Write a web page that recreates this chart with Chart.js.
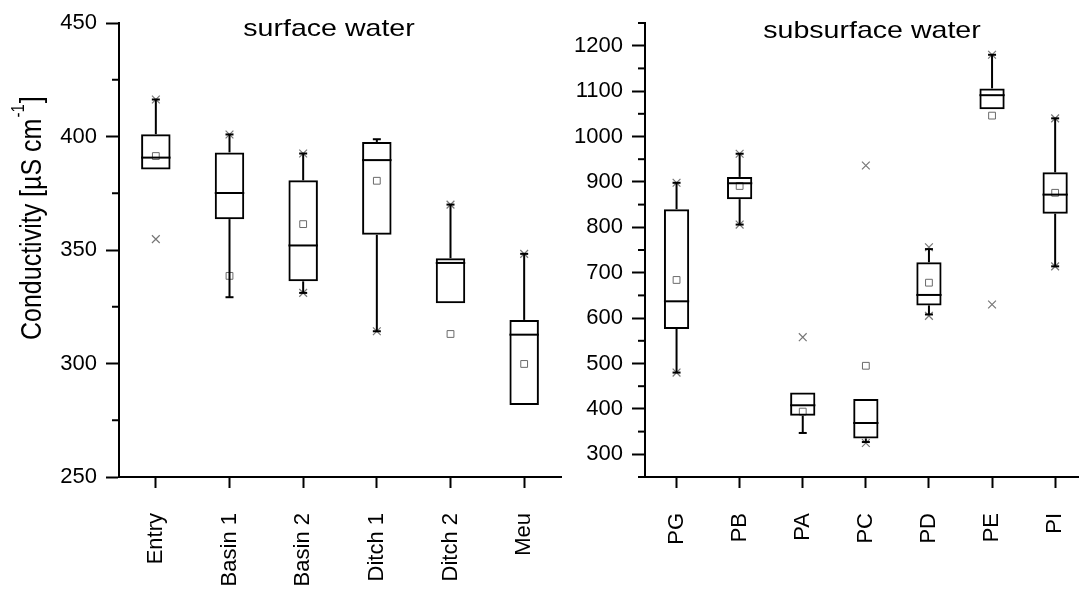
<!DOCTYPE html>
<html>
<head>
<meta charset="utf-8">
<script src="https://cdn.jsdelivr.net/npm/chart.js@4.4.1/dist/chart.umd.min.js"></script>
<style>
    html, body { margin: 0; padding: 0; background: #fff; overflow: hidden; }
    #surface { position: absolute; left: 0; top: 0; }
    #subsurface { position: absolute; left: 562px; top: 0; }
</style>
</head>
<body>
<canvas id="surface" width="562" height="592"></canvas>
<canvas id="subsurface" width="517" height="592"></canvas>
<script>
// surface water
const surfCats = ['Entry', 'Basin 1', 'Basin 2', 'Ditch 1', 'Ditch 2', 'Meu'];
const surfQ1 = [385.5, 363.6, 336.2, 356.7, 326.5, 281.7];
const surfQ3 = [401, 393, 380.7, 397.6, 346.4, 319.2];
const surfMedian = [390.7, 375.1, 352, 389.6, 344.3, 312.7];
const surfMean = [391.4, 338.6, 361.4, 380.5, 313, 299.8];
const surfWhiskerHi = [416.3, 400.9, 392.5, 398.8, 370, 348.3];
const surfWhiskerLo = [null, 329.2, 331.1, 314.2, null, null];
const surfMax = [416.3, 400.9, 392.5, null, 370, 348.3];
const surfMin = [354.8, null, 331.1, 314.2, null, null];
const surfMajorTicks = [250, 300, 350, 400, 450];
const surfMinorTicks = [275, 325, 375, 425];

// subsurface water
const subCats = ['PG', 'PB', 'PA', 'PC', 'PD', 'PE', 'PI'];
const subQ1 = [576, 862, 385, 335, 628, 1060, 830];
const subQ3 = [840, 911, 436, 422, 723, 1106, 921];
const subMedian = [637, 897, 408, 369, 651, 1091, 872];
const subMean = [684, 891, 394, 495, 678, 1046, 876];
const subWhiskerHi = [898, 962, null, null, 752, 1180, 1040];
const subWhiskerLo = [480, 806, 347, 327, 608, null, 714];
const subMax = [898, 962, 558, 936, 756, 1180, 1040];
const subMin = [480, 806, null, 325, 605, 630, 714];
const subMajorTicks = [300, 400, 500, 600, 700, 800, 900, 1000, 1100, 1200];
const subMinorTicks = [250, 350, 450, 550, 650, 750, 850, 950, 1050, 1150, 1250];

const FONT = '"Liberation Sans", Arial, sans-serif';

function seg(ctx, x1, y1, x2, y2) {
    ctx.beginPath();
    ctx.moveTo(x1, y1);
    ctx.lineTo(x2, y2);
    ctx.stroke();
}

// medians, whiskers, minor ticks, titles
const boxParts = {
    id: 'boxParts',
    afterDatasetsDraw(chart, args, o) {
        const { ctx } = chart;
        const x = chart.scales.x, y = chart.scales.y;
        const bars = chart.getDatasetMeta(0).data;
        ctx.save();
        ctx.strokeStyle = '#000';
        ctx.lineWidth = 2;
        o.median.forEach((m, i) => {
            const px = x.getPixelForValue(i);
            const half = bars[i].width / 2;
            seg(ctx, px - half, y.getPixelForValue(m), px + half, y.getPixelForValue(m));
            if (o.whiskerHi[i] != null) {
                const top = y.getPixelForValue(o.whiskerHi[i]);
                seg(ctx, px, y.getPixelForValue(o.q3[i]), px, top);
                seg(ctx, px - 4, top, px + 4, top);
            }
            if (o.whiskerLo[i] != null) {
                const bot = y.getPixelForValue(o.whiskerLo[i]);
                seg(ctx, px, y.getPixelForValue(o.q1[i]), px, bot);
                seg(ctx, px - 4, bot, px + 4, bot);
            }
        });
        ctx.restore();
    },
    afterDraw(chart, args, o) {
        const { ctx, chartArea } = chart;
        const y = chart.scales.y;
        ctx.save();
        ctx.strokeStyle = '#000';
        ctx.lineWidth = 2;
        o.minor.forEach(v => {
            const py = y.getPixelForValue(v);
            seg(ctx, chartArea.left - 7, py, chartArea.left, py);
        });
        ctx.fillStyle = '#000';
        ctx.font = '24px ' + FONT;
        ctx.textAlign = 'center';
        ctx.textBaseline = 'alphabetic';
        ctx.translate(chartArea.left + o.titleX, o.titleY);
        ctx.scale(1.19, 1);
        ctx.fillText(o.title, 0, 0);
        ctx.restore();

        if (o.yTitle) {
            ctx.save();
            ctx.fillStyle = '#000';
            ctx.translate(41, 340);
            ctx.rotate(-Math.PI / 2);
            ctx.scale(1, 1.19);
            ctx.textAlign = 'left';
            ctx.textBaseline = 'alphabetic';
            ctx.font = '25px ' + FONT;
            const main = 'Conductivity [\u00b5S cm';
            ctx.fillText(main, 0, 0);
            let w = ctx.measureText(main).width;
            ctx.font = '15px ' + FONT;
            ctx.fillText('-1', w + 1, -14);
            w += ctx.measureText('-1').width + 2;
            ctx.font = '25px ' + FONT;
            ctx.fillText(']', w, 0);
            ctx.restore();
        }
    }
};

function points(vals) {
    const out = [];
    vals.forEach((v, i) => { if (v != null) out.push({ x: i, y: v }); });
    return out;
}

function makeChart(id, d) {
    return new Chart(document.getElementById(id), {
        type: 'bar',
        data: {
            datasets: [
                {
                    type: 'bar',
                    data: d.cats.map((c, i) => ({ x: i, y: [d.q1[i], d.q3[i]] })),
                    backgroundColor: 'rgba(0,0,0,0)',
                    borderColor: '#000',
                    borderWidth: 2,
                    borderSkipped: false,
                    barPercentage: 0.4,
                    categoryPercentage: 1
                },
                {
                    type: 'line',
                    data: points(d.mean),
                    showLine: false,
                    pointStyle: 'rect',
                    pointRadius: 4.8,
                    pointBorderColor: '#6a6a6a',
                    pointBackgroundColor: 'rgba(0,0,0,0)',
                    pointBorderWidth: 1
                },
                {
                    type: 'line',
                    data: points(d.max).concat(points(d.min)),
                    showLine: false,
                    pointStyle: 'crossRot',
                    pointRadius: 5.5,
                    pointBorderColor: '#777',
                    pointBorderWidth: 1.2
                }
            ]
        },
        options: {
            responsive: false,
            animation: false,
            events: [],
            layout: { autoPadding: false, padding: { top: 23, right: d.padRight, left: 0, bottom: 0 } },
            plugins: {
                legend: { display: false },
                tooltip: { enabled: false },
                boxParts: {
                    median: d.median, q1: d.q1, q3: d.q3,
                    whiskerHi: d.whiskerHi, whiskerLo: d.whiskerLo,
                    minor: d.minor, title: d.title, titleX: d.titleX, titleY: d.titleY,
                    yTitle: d.yTitle
                }
            },
            scales: {
                x: {
                    type: 'linear',
                    min: -0.5,
                    max: d.xMax,
                    offset: false,
                    afterBuildTicks: s => { s.ticks = d.cats.map((c, i) => ({ value: i })); },
                    afterFit: s => {
                        s.height = 115;
                        s.paddingLeft = 0;
                        s.paddingRight = 0;
                    },
                    ticks: {
                        callback: v => d.cats[v],
                        minRotation: 90,
                        maxRotation: 90,
                        autoSkip: false,
                        padding: 25,
                        color: '#000',
                        font: { family: FONT, size: 22 }
                    },
                    grid: { offset: false, drawOnChartArea: false, tickLength: 11, tickWidth: 2, tickColor: '#000' },
                    border: { color: '#000', width: 2 }
                },
                y: {
                    min: d.yMin,
                    max: d.yMax,
                    afterBuildTicks: s => { s.ticks = d.major.map(v => ({ value: v })); },
                    afterFit: s => { s.width = d.yWidth; },
                    ticks: {
                        callback: v => String(v),
                        padding: 9,
                        color: '#000',
                        font: { family: FONT, size: 22 }
                    },
                    grid: { drawOnChartArea: false, tickLength: 13, tickWidth: 2, tickColor: '#000' },
                    border: { color: '#000', width: 2 }
                }
            }
        },
        plugins: [boxParts]
    });
}

makeChart('surface', {
    cats: surfCats, q1: surfQ1, q3: surfQ3, median: surfMedian, mean: surfMean,
    whiskerHi: surfWhiskerHi, whiskerLo: surfWhiskerLo, max: surfMax, min: surfMin,
    major: surfMajorTicks, minor: surfMinorTicks,
    yMin: 250, yMax: 450, xMax: 5.5, yWidth: 119, padRight: 1,
    title: 'surface water', titleX: 210, titleY: 36, yTitle: true
});

makeChart('subsurface', {
    cats: subCats, q1: subQ1, q3: subQ3, median: subMedian, mean: subMean,
    whiskerHi: subWhiskerHi, whiskerLo: subWhiskerLo, max: subMax, min: subMin,
    major: subMajorTicks, minor: subMinorTicks,
    yMin: 250, yMax: 1250, xMax: 6.378, yWidth: 83, padRight: 0,
    title: 'subsurface water', titleX: 227, titleY: 38, yTitle: false
});
</script>
</body>
</html>
